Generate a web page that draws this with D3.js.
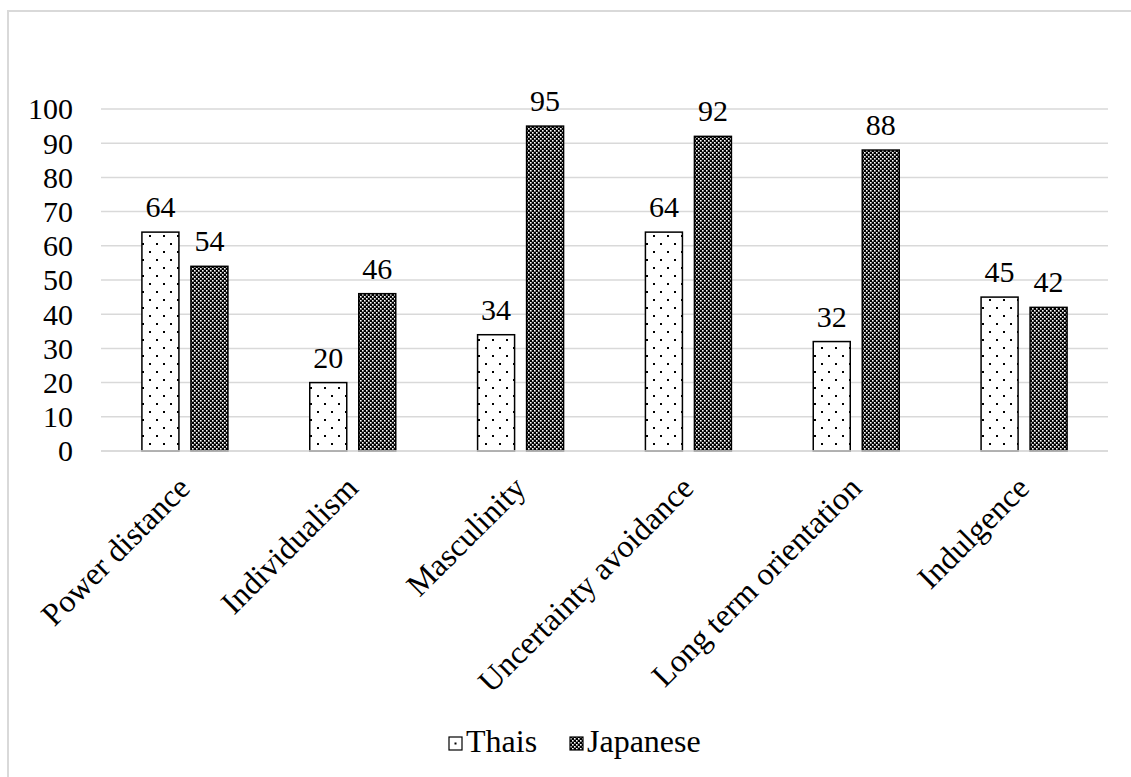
<!DOCTYPE html>
<html><head><meta charset="utf-8">
<script src="https://cdn.jsdelivr.net/npm/d3@7"></script>
<style>body{margin:0;background:#fff}svg{display:block}</style>
</head><body><div id="c"></div>
<script>
const categories = ["Power distance","Individualism","Masculinity","Uncertainty avoidance","Long term orientation","Indulgence"];
const seriesNames = ["Thais","Japanese"];
const thais = [64,20,34,64,32,45];
const japanese = [54,46,95,92,88,42];
const yTicks = [0,10,20,30,40,50,60,70,80,90,100];

const FONT = "'Times New Roman','Liberation Serif','DejaVu Serif',serif";
const FS = "30px", FS2 = "32px";
const W=1131,H=777;
const svg=d3.select("#c").append("svg").attr("width",W).attr("height",H)
  .attr("font-family",FONT);
const defs=svg.append("defs");
const p1=defs.append("pattern").attr("id","dots").attr("patternUnits","userSpaceOnUse").attr("width",14).attr("height",16);
p1.append("rect").attr("width",14).attr("height",16).attr("fill","#fff");
p1.append("rect").attr("x",2).attr("y",3).attr("width",2).attr("height",2).attr("fill","#000");
p1.append("rect").attr("x",9).attr("y",11).attr("width",2).attr("height",2).attr("fill","#000");
const p2=defs.append("pattern").attr("id","check").attr("patternUnits","userSpaceOnUse").attr("width",4).attr("height",4);
p2.append("rect").attr("width",4).attr("height",4).attr("fill","#000");
p2.append("rect").attr("x",0).attr("y",0).attr("width",1.6).attr("height",1.6).attr("fill","#fff");
p2.append("rect").attr("x",2).attr("y",2).attr("width",1.6).attr("height",1.6).attr("fill","#fff");
const fills=["url(#dots)","url(#check)"];

// chart border
svg.append("rect").attr("x",8).attr("y",11).attr("width",W).attr("height",H).attr("fill","none").attr("stroke","#d9d9d9").attr("stroke-width",2);

const x0=d3.scaleBand().domain(categories).range([101,1108]).paddingInner(0).paddingOuter(0);
const y=d3.scaleLinear().domain([0,100]).range([451,109]);
const barW=37, gap=12;

// gridlines
svg.append("g").selectAll("line").data(yTicks).join("line")
 .attr("x1",101).attr("x2",1108).attr("y1",d=>y(d)).attr("y2",d=>y(d))
 .attr("stroke","#d9d9d9").attr("stroke-width",1.5);

// y axis labels
const yAxis=d3.axisLeft(y).tickValues(yTicks).tickSize(0).tickPadding(0);
const ga=svg.append("g").attr("transform","translate(73,0)").call(yAxis)
  .attr("font-family",FONT).attr("font-size",FS);
ga.select(".domain").remove();
ga.selectAll("text").attr("fill","#000").attr("dy","0.33em");

const data=categories.map((c,i)=>({c,vals:[thais[i],japanese[i]]}));
const g=svg.append("g").attr("font-size",FS);
data.forEach(d=>{
  const cx=x0(d.c)+x0.bandwidth()/2;
  d.vals.forEach((v,j)=>{
    const bx= j===0 ? cx-gap/2-barW : cx+gap/2;
    g.append("rect").attr("x",bx).attr("y",y(v)).attr("width",barW).attr("height",y(0)-y(v))
     .attr("fill",fills[j]).attr("stroke","#000").attr("stroke-width",1.5);
    g.append("text").attr("x",bx+barW/2).attr("y",y(v)-15).attr("text-anchor","middle").text(v);
  });
  g.append("text").attr("transform",`translate(${cx+7},${490}) rotate(-45)`)
   .attr("font-size",FS2).attr("text-anchor","end").text(d.c);
});

// baseline
svg.append("line").attr("x1",101).attr("x2",1108).attr("y1",y(0)).attr("y2",y(0)).attr("stroke","#d9d9d9").attr("stroke-width",1.5);

// legend
const leg=svg.append("g").attr("font-size",FS2);
const legX=[449,570];
seriesNames.forEach((n,j)=>{
  leg.append("rect").attr("x",legX[j]).attr("y",737).attr("width",13).attr("height",13)
   .attr("fill",j===0?"#fff":fills[1]).attr("stroke","#000").attr("stroke-width",1.2);
  if(j===0) leg.append("rect").attr("x",legX[j]+5.5).attr("y",742.5).attr("width",2).attr("height",2).attr("fill","#000");
  leg.append("text").attr("x",legX[j]+17).attr("y",752).text(n);
});
</script></body></html>
